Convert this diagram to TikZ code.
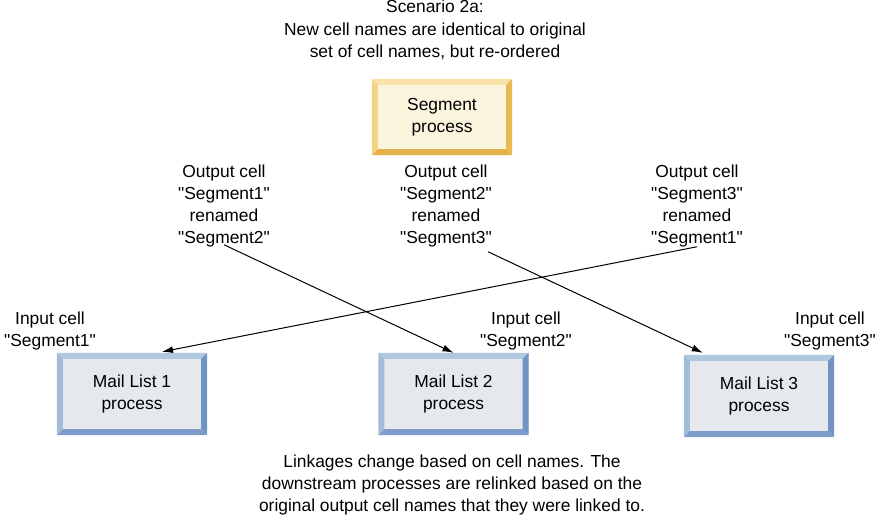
\documentclass[tikz,border=0pt]{standalone}
\usepackage{fontspec}
\setmainfont{Liberation Sans}
\usetikzlibrary{positioning,calc,arrows.meta}

\definecolor{segface}{HTML}{FBF5DE}
\definecolor{segtop}{HTML}{F7E3A6}
\definecolor{segleft}{HTML}{F3D685}
\definecolor{segright}{HTML}{E9BA52}
\definecolor{segbottom}{HTML}{E3B04A}
\definecolor{mailface}{HTML}{E5E9EE}
\definecolor{mailtop}{HTML}{AFC8E0}
\definecolor{mailleft}{HTML}{A2BCDA}
\definecolor{mailright}{HTML}{7093C4}
\definecolor{mailbottom}{HTML}{7E9BCB}

\newcommand{\q}[1]{\textquotedbl#1\textquotedbl}

\tikzset{
    label text/.style={align=center, inner sep=0pt, font=\fontsize{17.4}{22.3}\selectfont},
    proc/.style={align=center, inner sep=0pt, font=\fontsize{17.4}{22.3}\selectfont},
    link/.style={-{Latex[length=11pt,width=7pt]}, line width=1pt},
}

% bevelled box round a named node: name, top, left, right, bottom
\newcommand{\bevel}[5]{
    \fill[#2] (#1.north west) -- (#1.north east) -- ([shift={(-6,6)}]#1.north east) -- ([shift={(6,6)}]#1.north west) -- cycle;
    \fill[#3] (#1.north west) -- ([shift={(6,6)}]#1.north west) -- ([shift={(6,-6)}]#1.south west) -- (#1.south west) -- cycle;
    \fill[#4] (#1.north east) -- ([shift={(-6,6)}]#1.north east) -- ([shift={(-6,-6)}]#1.south east) -- (#1.south east) -- cycle;
    \fill[#5] (#1.south west) -- (#1.south east) -- ([shift={(-6,-6)}]#1.south east) -- ([shift={(6,-6)}]#1.south west) -- cycle;
}

\begin{document}
\begin{tikzpicture}[x=1pt, y=-1pt]
    \useasboundingbox (0,0) rectangle (879,521);

    \node[label text] (title) at (435,30) {Scenario 2a:\\New cell names are identical to original\\set of cell names, but re-ordered};

    \node[proc, fill=segface, minimum width=140pt, minimum height=76pt] (seg) at (442,117) {};
    \bevel{seg}{segtop}{segleft}{segright}{segbottom}
    \node[proc] at (seg) {Segment\\process};

    \node[label text] (out1) at (224,206) {Output cell\\\q{Segment1}\\renamed\\\q{Segment2}};
    \node[label text] (out2) at (446,206) {Output cell\\\q{Segment2}\\renamed\\\q{Segment3}};
    \node[label text] (out3) at (697,206) {Output cell\\\q{Segment3}\\renamed\\\q{Segment1}};

    \node[proc, fill=mailface, minimum width=150pt, minimum height=82pt] (ml1) at (132,394) {};
    \node[proc, fill=mailface, minimum width=150pt, minimum height=82pt] (ml2) at (453.5,394) {};
    \node[proc, fill=mailface, minimum width=150pt, minimum height=82pt] (ml3) at (759,396) {};
    \bevel{ml1}{mailtop}{mailleft}{mailright}{mailbottom}
    \bevel{ml2}{mailtop}{mailleft}{mailright}{mailbottom}
    \bevel{ml3}{mailtop}{mailleft}{mailright}{mailbottom}
    \node[proc] at (ml1) {Mail List 1\\process};
    \node[proc] at (ml2) {Mail List 2\\process};
    \node[proc] at (ml3) {Mail List 3\\process};

    \node[label text] (in1) at (50,331) {Input cell\\\q{Segment1}};
    \node[label text] (in2) at (526,331) {Input cell\\\q{Segment2}};
    \node[label text] (in3) at (830,331) {Input cell\\\q{Segment3}};

    \node[label text] (note) at (452,485) {Linkages change based on cell names. The\\downstream processes are relinked based on the\\original output cell names that they were linked to.};

    \draw[link] ([yshift=3]out1.south) -- (ml2.north);
    \draw[link] ($(out2.south)+(42,4)$) -- ($(ml3.north west)+(19,-2)$);
    \draw[link] ([yshift=1]out3.south) -- ($(ml1.north)+(30,-1)$);
\end{tikzpicture}
\end{document}
